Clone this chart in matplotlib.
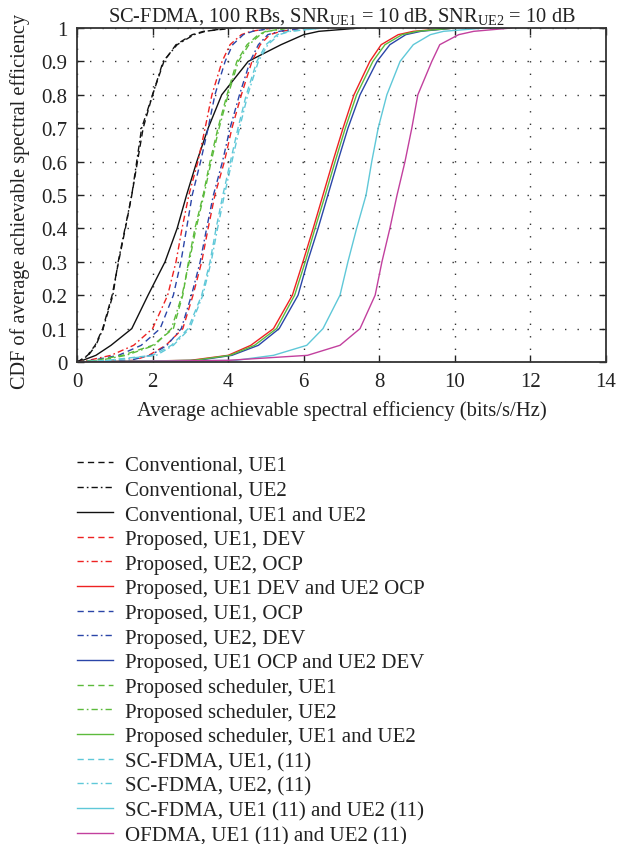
import matplotlib
matplotlib.use("Agg")
import matplotlib.pyplot as plt
import numpy as np

plt.rcParams["font.family"] = ["Liberation Serif", "DejaVu Serif"]
plt.rcParams["mathtext.fontset"] = "custom"
plt.rcParams["mathtext.rm"] = "Liberation Serif"

# CDF levels shared by every curve; each series holds the spectral efficiency
# (bits/s/Hz) at which its CDF reaches the matching level.
CDF_LEVELS = [0, 0.005, 0.02, 0.05, 0.1, 0.2, 0.3, 0.4, 0.5, 0.6, 0.7, 0.8, 0.9, 0.95, 0.98, 0.99, 1.0]

conv_ue1 = [0, 0.08, 0.28, 0.48, 0.68, 0.93, 1.10, 1.28, 1.45, 1.60, 1.75, 2.00, 2.30, 2.62, 3.05, 3.35, 4.2]
conv_ue2 = [0, 0.10, 0.30, 0.50, 0.69, 0.95, 1.09, 1.27, 1.45, 1.58, 1.71, 2.00, 2.28, 2.65, 3.10, 3.40, 4.0]
conv_both = [0, 0.15, 0.50, 0.90, 1.45, 1.88, 2.33, 2.65, 2.90, 3.17, 3.47, 3.83, 4.53, 5.40, 6.00, 6.40, 7.5]

prop_ue1_dev = [0, 1.50, 1.90, 2.35, 2.80, 3.07, 3.30, 3.47, 3.65, 3.90, 4.10, 4.35, 4.63, 4.85, 5.10, 5.40, 6.0]
prop_ue2_ocp = [0, 0.30, 0.90, 1.50, 2.00, 2.40, 2.62, 2.78, 2.96, 3.20, 3.39, 3.57, 3.84, 4.05, 4.35, 4.60, 5.2]
prop_dev_ocp = [0, 3.00, 4.00, 4.60, 5.20, 5.70, 5.98, 6.25, 6.51, 6.77, 7.04, 7.33, 7.75, 8.05, 8.50, 8.90, 10.0]
prop_ue1_ocp = [0, 0.40, 1.10, 1.70, 2.20, 2.55, 2.75, 2.90, 3.05, 3.27, 3.47, 3.65, 3.92, 4.12, 4.40, 4.65, 5.2]
prop_ue2_dev = [0, 1.40, 1.95, 2.38, 2.76, 3.03, 3.26, 3.43, 3.61, 3.85, 4.05, 4.30, 4.58, 4.80, 5.05, 5.35, 6.0]
prop_ocp_dev = [0, 3.20, 4.10, 4.80, 5.35, 5.85, 6.10, 6.38, 6.64, 6.90, 7.17, 7.49, 7.94, 8.28, 8.70, 9.10, 10.0]

sched_ue1 = [0, 0.50, 1.20, 2.00, 2.55, 2.80, 2.95, 3.12, 3.34, 3.52, 3.73, 3.97, 4.23, 4.50, 4.80, 5.00, 5.6]
sched_ue2 = [0, 0.60, 1.30, 2.05, 2.50, 2.78, 2.97, 3.15, 3.36, 3.55, 3.76, 4.00, 4.27, 4.55, 4.85, 5.05, 5.6]
sched_both = [0, 3.10, 4.05, 4.70, 5.28, 5.76, 6.04, 6.30, 6.57, 6.83, 7.10, 7.40, 7.83, 8.15, 8.60, 9.00, 10.0]

scfdma_ue1 = [0, 0.80, 2.00, 2.50, 2.94, 3.30, 3.52, 3.68, 3.86, 4.06, 4.26, 4.48, 4.76, 5.00, 5.30, 5.60, 6.5]
scfdma_ue2 = [0, 0.90, 2.10, 2.55, 2.98, 3.33, 3.55, 3.72, 3.90, 4.10, 4.30, 4.52, 4.80, 5.05, 5.35, 5.65, 6.5]
scfdma_both = [0, 4.20, 5.20, 6.08, 6.51, 6.96, 7.17, 7.40, 7.65, 7.80, 7.97, 8.20, 8.55, 8.90, 9.35, 9.70, 10.8]
ofdma_both = [0, 4.00, 6.10, 6.96, 7.49, 7.89, 8.07, 8.28, 8.47, 8.68, 8.86, 9.02, 9.39, 9.60, 10.1, 10.5, 11.5]

LABELS = [
    "Conventional, UE1",
    "Conventional, UE2",
    "Conventional, UE1 and UE2",
    "Proposed, UE1, DEV",
    "Proposed, UE2, OCP",
    "Proposed, UE1 DEV and UE2 OCP",
    "Proposed, UE1, OCP",
    "Proposed, UE2, DEV",
    "Proposed, UE1 OCP and UE2 DEV",
    "Proposed scheduler, UE1",
    "Proposed scheduler, UE2",
    "Proposed scheduler, UE1 and UE2",
    "SC-FDMA, UE1, (11)",
    "SC-FDMA, UE2, (11)",
    "SC-FDMA, UE1 (11) and UE2 (11)",
    "OFDMA, UE1 (11) and UE2 (11)",
]
SERIES = [
    conv_ue1, conv_ue2, conv_both,
    prop_ue1_dev, prop_ue2_ocp, prop_dev_ocp,
    prop_ue1_ocp, prop_ue2_dev, prop_ocp_dev,
    sched_ue1, sched_ue2, sched_both,
    scfdma_ue1, scfdma_ue2, scfdma_both,
    ofdma_both,
]

BLACK = "#111111"
RED = "#ee2222"
BLUE = "#2a45a8"
GREEN = "#5cbb3c"
CYAN = "#5fc8d8"
MAGENTA = "#c2409e"

DASH = (0, (4.5, 3))
DASHDOT = (0, (4.5, 2.2, 1.2, 2.2))
SOLID = "-"

STYLES = [
    (BLACK, DASH), (BLACK, DASHDOT), (BLACK, SOLID),
    (RED, DASH), (RED, DASHDOT), (RED, SOLID),
    (BLUE, DASH), (BLUE, DASHDOT), (BLUE, SOLID),
    (GREEN, DASH), (GREEN, DASHDOT), (GREEN, SOLID),
    (CYAN, DASH), (CYAN, DASHDOT), (CYAN, SOLID),
    (MAGENTA, SOLID),
]

fig = plt.figure(figsize=(6.17, 8.45), dpi=100)
ax = fig.add_axes([0.1248, 0.5704, 0.8574, 0.3953])

handles = []
for xs, (color, ls), label in zip(SERIES, STYLES, LABELS):
    (line,) = ax.plot(xs, CDF_LEVELS, color=color, linestyle=ls, lw=1.0, label=label)
    handles.append(line)

ax.set_xlim(0, 14)
ax.set_ylim(0, 1)
ax.set_xticks(np.arange(0, 15, 2))
ax.set_yticks(np.arange(0, 1.01, 0.1))
ax.set_yticklabels(["0", "0.1", "0.2", "0.3", "0.4", "0.5", "0.6", "0.7", "0.8", "0.9", "1"])
ax.tick_params(direction="in", top=True, right=True, length=5, width=1.0,
               labelsize=15, colors="#222222", pad=7)
for spine in ax.spines.values():
    spine.set_linewidth(1.3)
    spine.set_color("#333333")
ax.grid(True, color="#333333", linestyle=(0, (1, 8)), linewidth=1.0)

ax.set_title(r"SC-FDMA, 100 RBs, SNR$_{\mathrm{UE1}}$ = 10 dB, SNR$_{\mathrm{UE2}}$ = 10 dB",
             fontsize=14.7, color="#222222", pad=5)
ax.set_xlabel("Average achievable spectral efficiency (bits/s/Hz)", fontsize=14.9,
              color="#222222", labelpad=7)
ax.set_ylabel("CDF of average achievable spectral efficiency", fontsize=14.6,
              color="#222222", labelpad=6)
ax.yaxis.set_label_coords(-0.088, 0.485)

fig.legend(handles=handles, loc="upper left", bbox_to_anchor=(0.112, 0.47),
           frameon=False, fontsize=15, handlelength=1.7, handletextpad=0.58,
           labelspacing=0.245, borderaxespad=0, labelcolor="#222222")

fig.savefig("out.png", dpi=100)
